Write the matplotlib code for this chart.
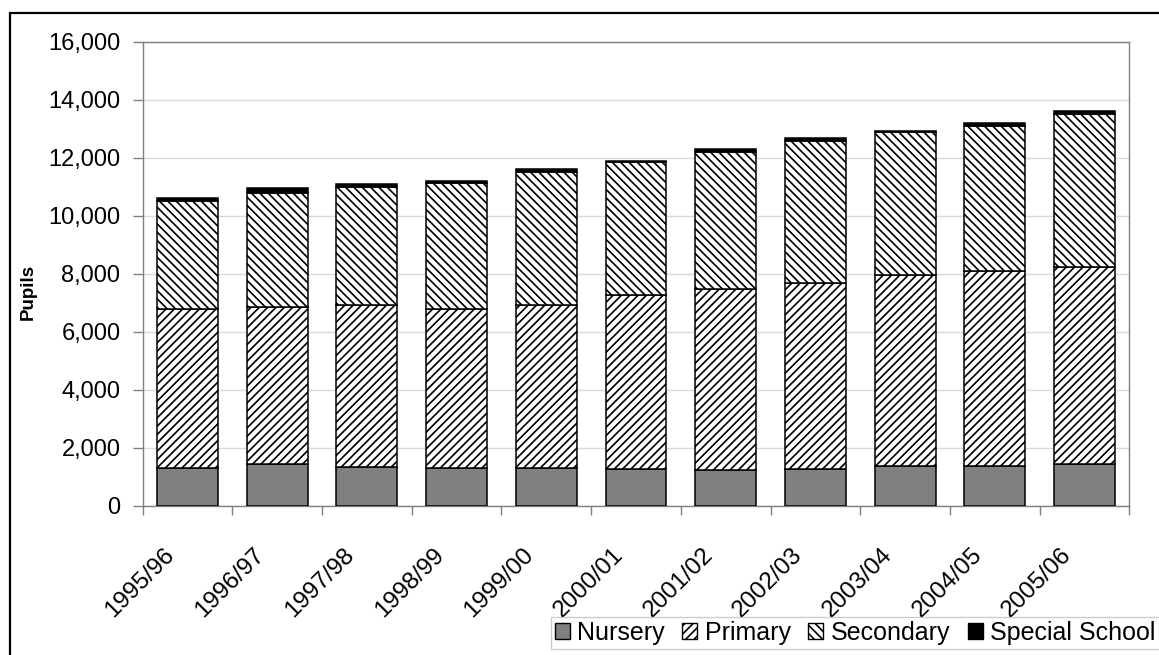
import matplotlib
matplotlib.use('Agg')
import matplotlib.pyplot as plt
import matplotlib.transforms as mtransforms
from matplotlib.patches import Patch, Rectangle
from matplotlib.ticker import FuncFormatter, FixedLocator
import numpy as np

# pupils by school type, per academic year
years = ['1995/96', '1996/97', '1997/98', '1998/99', '1999/00', '2000/01',
         '2001/02', '2002/03', '2003/04', '2004/05', '2005/06']
nursery = [1290, 1430, 1350, 1290, 1290, 1280, 1220, 1280, 1360, 1360, 1430]
primary = [5480, 5420, 5570, 5480, 5640, 5990, 6240, 6400, 6600, 6720, 6790]
secondary = [3740, 3925, 4060, 4350, 4590, 4590, 4750, 4880, 4930, 5030, 5300]
special = [90, 170, 100, 80, 90, 40, 90, 110, 40, 100, 100]

plt.rcParams['font.family'] = ['Liberation Sans', 'DejaVu Sans']
plt.rcParams['hatch.linewidth'] = 1.2

W, H = 1159, 655
fig = plt.figure(figsize=(W / 100, H / 100), dpi=100)
ax = fig.add_axes([142.7 / W, 1 - 505.7 / H, (1129.3 - 142.7) / W, (505.7 - 41.7) / H])

x = np.arange(len(years))
width = 0.68
edge = dict(edgecolor='black', linewidth=1.1, zorder=3)

b1 = np.array(nursery)
b2 = b1 + np.array(primary)
b3 = b2 + np.array(secondary)

ax.bar(x, nursery, width, color='#808080', **edge)
ax.bar(x, primary, width, bottom=b1, color='white', hatch='////', **edge)
ax.bar(x, secondary, width, bottom=b2, color='white', hatch='\\\\\\\\', **edge)
ax.bar(x, special, width, bottom=b3, color='black', **edge)

# axes styling
ax.set_xlim(-0.5, len(years) - 0.5)
ax.set_ylim(0, 16000)
ax.set_yticks(np.arange(0, 16001, 2000))
ax.yaxis.set_major_formatter(FuncFormatter(lambda v, p: f'{int(v):,}'))
ax.grid(axis='y', color='#d9d9d9', linewidth=1.0, zorder=0)
ax.set_axisbelow(True)
for s in ax.spines.values():
    s.set_color('#808080')
    s.set_linewidth(1.0)

ax.tick_params(axis='y', length=7, width=1, color='#808080', pad=9, labelsize=17)

ax.set_xticks(x)
ax.set_xticklabels(years, rotation=45, ha='right', va='baseline',
                   rotation_mode='anchor', fontsize=17.5)
ax.tick_params(axis='x', which='major', length=0, pad=36)
ax.xaxis.set_minor_locator(FixedLocator(np.arange(-0.5, len(years), 1.0)))
ax.tick_params(axis='x', which='minor', length=6.5, width=1, color='#808080')
shift = mtransforms.ScaledTranslation(-12 / 100, 0, fig.dpi_scale_trans)
for lbl in ax.get_xticklabels():
    lbl.set_transform(lbl.get_transform() + shift)

fig.text(28 / W, 1 - 292 / H, 'Pupils', rotation=90, ha='center', va='center',
         fontsize=13.5, fontweight='bold')

# legend along the bottom edge
handles = [
    Patch(facecolor='#808080', edgecolor='black', label='Nursery'),
    Patch(facecolor='white', edgecolor='black', hatch='////', label='Primary'),
    Patch(facecolor='white', edgecolor='black', hatch='\\\\\\\\', label='Secondary'),
    Patch(facecolor='black', edgecolor='black', label='Special School'),
]
leg = fig.legend(handles=handles, loc='upper left',
                 bbox_to_anchor=(551 / W, 1 - 617 / H), ncol=4, fontsize=18,
                 frameon=True, fancybox=False, edgecolor='#c0c0c0',
                 handlelength=0.6, handleheight=0.6, handletextpad=0.3,
                 columnspacing=0.7, borderpad=0.15, borderaxespad=0)
leg.get_frame().set_linewidth(1.0)

# outer chart frame
fig.add_artist(Rectangle((10 / W, -1), 2, 1 + (1 - 13 / H), transform=fig.transFigure,
                         fill=False, edgecolor='black', linewidth=1.6))

fig.savefig('out.png', dpi=100)
